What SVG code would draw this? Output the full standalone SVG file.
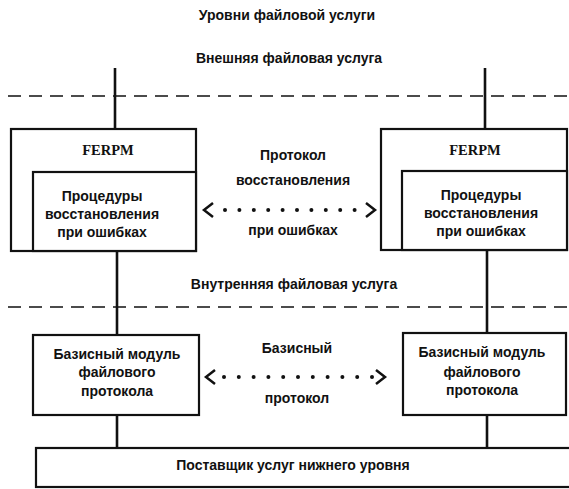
<svg xmlns="http://www.w3.org/2000/svg" width="569" height="489" viewBox="0 0 569 489">
<style>
  .t { font-family: "Liberation Sans", Arial, sans-serif; font-weight: bold; font-size: 14px; fill: #111; text-anchor: middle; }
  .f { font-family: "Liberation Serif", "Times New Roman", serif; font-weight: bold; font-size: 14.5px; fill: #111; text-anchor: middle; }
  .box { fill: #fff; stroke: #111; stroke-width: 2.2; }
  .vl { stroke: #111; stroke-width: 2.6; fill: none; }
  .dash { stroke: #111; stroke-width: 1.5; stroke-dasharray: 13 8; fill: none; }
  .chev { stroke: #111; stroke-width: 2.5; fill: none; stroke-linejoin: miter; }
  .dot { fill: #111; }
</style>
<rect width="569" height="489" fill="#fff"/>

<g id="labels">
  <text class="t" x="287" y="20">Уровни файловой услуги</text>
  <text class="t" x="289" y="63">Внешняя файловая услуга</text>
  <text class="t" x="294" y="289">Внутренняя файловая услуга</text>
</g>

<g id="boundaries">
  <line class="dash" x1="8" y1="96" x2="569" y2="96"/>
  <line class="dash" x1="8" y1="307" x2="569" y2="307"/>
</g>

<g id="connectors">
  <line class="vl" x1="115" y1="68" x2="115" y2="129"/>
  <line class="vl" x1="485" y1="68" x2="485" y2="129"/>
  <line class="vl" x1="117" y1="251" x2="117" y2="335"/>
  <line class="vl" x1="487" y1="250" x2="487" y2="333"/>
  <line class="vl" x1="117" y1="415" x2="117" y2="448"/>
  <line class="vl" x1="487" y1="415" x2="487" y2="448"/>
  <g id="recovery-protocol">
    <polyline class="chev" points="213,203 204,210 213,217"/>
    <polyline class="chev" points="366,203 375,210 366,217"/>
    <circle class="dot" cx="225" cy="210" r="2"/>
    <circle class="dot" cx="239.4" cy="210" r="2"/>
    <circle class="dot" cx="253.8" cy="210" r="2"/>
    <circle class="dot" cx="268.2" cy="210" r="2"/>
    <circle class="dot" cx="282.6" cy="210" r="2"/>
    <circle class="dot" cx="297" cy="210" r="2"/>
    <circle class="dot" cx="311.4" cy="210" r="2"/>
    <circle class="dot" cx="325.8" cy="210" r="2"/>
    <circle class="dot" cx="340.2" cy="210" r="2"/>
    <circle class="dot" cx="354.6" cy="210" r="2"/>
    <text class="t" x="293" y="160">Протокол</text>
    <text class="t" x="293" y="185">восстановления</text>
    <text class="t" x="293" y="235">при ошибках</text>
  </g>
  <g id="basic-protocol">
    <polyline class="chev" points="215,370 206,377 215,384"/>
    <polyline class="chev" points="376,370 385,377 376,384"/>
    <circle class="dot" cx="224" cy="377" r="2"/>
    <circle class="dot" cx="238.8" cy="377" r="2"/>
    <circle class="dot" cx="253.6" cy="377" r="2"/>
    <circle class="dot" cx="268.4" cy="377" r="2"/>
    <circle class="dot" cx="283.2" cy="377" r="2"/>
    <circle class="dot" cx="298" cy="377" r="2"/>
    <circle class="dot" cx="312.8" cy="377" r="2"/>
    <circle class="dot" cx="327.6" cy="377" r="2"/>
    <circle class="dot" cx="342.4" cy="377" r="2"/>
    <circle class="dot" cx="357.2" cy="377" r="2"/>
    <circle class="dot" cx="372" cy="377" r="2"/>
    <text class="t" x="297" y="353">Базисный</text>
    <text class="t" x="297" y="403">протокол</text>
  </g>
</g>

<g id="ferpm-left">
  <rect class="box" x="11" y="129" width="185" height="122"/>
  <text class="f" x="108" y="155">FERPM</text>
  <g id="recovery-left">
    <rect class="box" x="33" y="172" width="163" height="79"/>
    <text class="t" x="102" y="201">Процедуры</text>
    <text class="t" x="102" y="219">восстановления</text>
    <text class="t" x="102" y="237">при ошибках</text>
  </g>
</g>

<g id="ferpm-right">
  <rect class="box" x="381" y="129" width="186" height="121"/>
  <text class="f" x="475" y="155">FERPM</text>
  <g id="recovery-right">
    <rect class="box" x="402" y="171" width="165" height="79"/>
    <text class="t" x="481" y="200">Процедуры</text>
    <text class="t" x="481" y="218">восстановления</text>
    <text class="t" x="481" y="236">при ошибках</text>
  </g>
</g>

<g id="basic-left">
  <rect class="box" x="33" y="335" width="166" height="80"/>
  <text class="t" x="117" y="359">Базисный модуль</text>
  <text class="t" x="117" y="377">файлового</text>
  <text class="t" x="117" y="396">протокола</text>
</g>

<g id="basic-right">
  <rect class="box" x="403" y="333" width="163" height="82"/>
  <text class="t" x="482" y="357">Базисный модуль</text>
  <text class="t" x="482" y="377">файлового</text>
  <text class="t" x="482" y="395">протокола</text>
</g>

<g id="lower-provider">
  <rect class="box" x="36" y="448" width="545" height="39"/>
  <text class="t" x="293" y="470">Поставщик услуг нижнего уровня</text>
</g>
</svg>
